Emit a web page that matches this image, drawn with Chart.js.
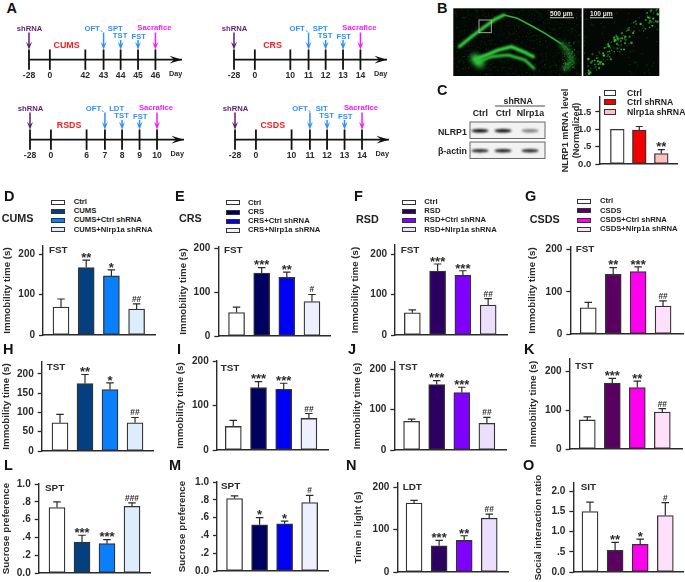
<!DOCTYPE html>
<html><head><meta charset="utf-8">
<script src="https://cdn.jsdelivr.net/npm/chart.js@4/dist/chart.umd.js"></script>
<style>
html,body{margin:0;padding:0;background:#fff;width:685px;height:582px;overflow:hidden}
#root{position:relative;width:685px;height:582px;overflow:hidden;font-family:"Liberation Sans",Arial,sans-serif;color:#222}
canvas{position:absolute}
.t{position:absolute;white-space:nowrap;line-height:1;transform:translateY(-50%);font-weight:700}
.sw{position:absolute;box-sizing:border-box;border:1.2px solid #333}
</style></head><body><div id="root"></div>
<script>
// ---------- data ----------
const cumsLegend=['Ctrl','CUMS','CUMS+Ctrl shRNA','CUMS+Nlrp1a shRNA'];
const crsLegend=['Ctrl','CRS','CRS+Ctrl shRNA','CRS+Nlrp1a shRNA'];
const rsdLegend=['Ctrl','RSD','RSD+Ctrl shRNA','RSD+Nlrp1a shRNA'];
const csdsLegend=['Ctrl','CSDS','CSDS+Ctrl shRNA','CSDS+Nlrp1a shRNA'];
const knockdownLegend=['Ctrl','Ctrl shRNA','Nlrp1a shRNA'];

const dFst=[69,166.7,146,64],      dFstTop=[89,185,161,77],      dMarks=['','**','*','##'];
const eFst=[53.5,144,134,79],      eFstTop=[66,156.5,146,95],    eMarks=['','***','**','#'];
const fFst=[55,158.4,147.7,74],    fFstTop=[62,175.7,159,90],    fMarks=['','***','***','##'];
const gFst=[62,141.5,148,66],      gFstTop=[75,157,159,78.5],    gMarks=['','**','***','##'];
const hTst=[73,175,159.5,73],      hTstTop=[95,198.5,176.7,87],  hMarks=['','**','*','##'];
const iTst=[53,140,136.4,71],      iTstTop=[66.7,153.5,150,82],  iMarks=['','***','***','##'];
const jTst=[71,162,142.5,66],      jTstTop=[76.5,172,155.5,81],  jMarks=['','***','***','##'];
const kTst=[75,170,158.5,95],      kTstTop=[82.7,182,175,104],   kMarks=['','***','**','##'];
const lSpt=[.735,.348,.33,.75],    lSptTop=[.80,.424,.375,.787], lMarks=['','***','***','###'];
const mSpt=[.815,.52,.53,.77],     mSptTop=[.843,.60,.56,.85],   mMarks=['','*','*','#'];
const nLdt=[162.5,62,74.5,127],    nLdtTop=[169,74.5,85.5,136.5],nMarks=['','***','**','##'];
const oSit=[1.5,.535,.684,1.40],   oSitTop=[1.73,.733,.815,1.72],oMarks=['','**','*','#'];
const cMrna=[1,.98,.30],           cMrnaTop=[1,1.08,.415],       cMarks=['','','**'];

const ticks0to200=[0,100,200],              labels0to200=['0','100','200'];
const ticks0to200by50=[0,50,100,150,200],   labels0to200by50=['0','50','100','150','200'];
const ticksFraction=[0,.2,.4,.6,.8,1],      labelsFraction=['0.0','.2','.4','.6','.8','1.0'];
const ticksRatio=[0,.5,1,1.5,2],            labelsRatio=['0.0','.5','1.0','1.5','2.0'];
const ticksMrna=[0,.5,1,1.5],               labelsMrna=['0.0','.5','1.0','1.5'];

const cumsDays=['-28','0','42','43','44','45','46'];
const crsDays=['-28','0','10','11','12','13','14'];
const rsdsDays=['-28','0','6','7','8','9','10'];
const csdsDays=['-28','0','10','11','12','13','14'];

// ---------- colours and layout ----------
const cumsColors=['#ffffff','#04407f','#0a7ffc','#deedfb'];
const crsColors=['#ffffff','#000060','#0000f4','#eff0ff'];
const rsdColors=['#ffffff','#2b0060','#7f00ff','#ecdffb'];
const csdsColors=['#ffffff','#5a0060','#ff00ee','#ffe0fa'];
const mrnaColors=['#ffffff','#f00000','#ffc0c0'];
const FONT='"Liberation Sans",Arial,sans-serif', INK='#2a2a2a';
const root=document.getElementById('root');

function text(x,y,s,size,color,opts){
  const d=document.createElement('div');d.className='t';d.textContent=s;
  d.style.left=x+'px';d.style.top=y+'px';d.style.fontSize=size+'px';
  if(color)d.style.color=color;
  if(opts&&opts.weight)d.style.fontWeight=opts.weight;
  root.appendChild(d);
}
function newCanvas(x,y,w,h){
  const c=document.createElement('canvas');c.width=w;c.height=h;
  c.style.left=x+'px';c.style.top=y+'px';c.style.width=w+'px';c.style.height=h+'px';
  root.appendChild(c);return c;
}

// ---------- error bars, significance marks and panel tag, placed through the scales ----------
const annotPlugin={id:'annot',afterDatasetsDraw(ch,_a,o){
  const c=ch.ctx,sx=ch.scales.x,sy=ch.scales.y;
  c.save();c.strokeStyle=INK;c.lineWidth=1.2;c.fillStyle=INK;c.textAlign='center';c.textBaseline='alphabetic';
  o.upper.forEach((u,i)=>{
    const x=sx.getPixelForValue(i+1),y0=sy.getPixelForValue(o.values[i]),y1=sy.getPixelForValue(u);
    if(u>o.values[i]){
      c.beginPath();c.moveTo(x,y0);c.lineTo(x,y1);c.moveTo(x-o.cap/2,y1);c.lineTo(x+o.cap/2,y1);c.stroke();
    }
    const m=o.marks[i];
    if(m&&m[0]==='*'){c.font='700 13px '+FONT;c.fillText(m,x,y1+1.8);}
    else if(m){c.font='700 8.4px '+FONT;c.fillText(m,x,y1-2);}
  });
  if(o.tag){
    c.textAlign='left';c.textBaseline='middle';c.font='700 9.9px '+FONT;
    c.fillText(o.tag,o.tagX-ch.canvas.offsetLeft,o.tagY-ch.canvas.offsetTop);
  }
  c.restore();
}};

function barPanel(p){
  const pad=12, W=p.ax-(p.titleX-6), cLeft=p.titleX-6;
  const cw=Math.round(p.right-cLeft+1), ch=Math.round(p.y0-p.ytop+pad*2);
  const cTop=p.ytop-pad;
  const c=newCanvas(cLeft,cTop,cw,ch);
  const labels=p.legend;
  new Chart(c,{
    type:'bar',
    data:{labels,datasets:[{
      data:p.values.map((v,i)=>({x:i+1,y:v})),
      backgroundColor:p.colors,borderColor:'#333',borderWidth:1.3,borderSkipped:false,
      barThickness:p.barW||16
    }]},
    plugins:[annotPlugin],
    options:{
      responsive:false,animation:false,
      layout:{padding:{top:pad,bottom:pad,left:0,right:1}},
      plugins:{legend:{display:false},tooltip:{enabled:false},
        annot:{values:p.values,upper:p.upper,marks:p.marks,cap:p.cap||7.5,tag:p.tag,tagX:p.tagX,tagY:p.tagY}},
      scales:{
        x:{type:'linear',offset:false,min:1-(p.x1-p.ax)/p.step,max:1+(p.right-p.x1)/p.step,
          ticks:{display:false},grid:{display:false,drawTicks:false},
          border:{display:true,color:INK,width:1.4},
          afterFit:s=>{s.height=0}},
        y:{type:'linear',min:0,max:p.ymax,position:'left',
          grid:{drawOnChartArea:false,drawTicks:true,tickLength:4,tickColor:INK,tickWidth:1.3},
          border:{display:true,color:INK,width:1.4},
          ticks:{autoSkip:false,includeBounds:false,padding:4,color:INK,
            font:{family:FONT,size:p.tickSize||10,weight:'700'},
            callback:(v)=>{const i=p.ticks.indexOf(v);return i<0?'':p.tickText[i];}},
          afterBuildTicks:s=>{s.ticks=p.ticks.map(v=>({value:v}));},
          title:{display:true,text:p.title,color:INK,padding:0,
            font:{family:FONT,size:p.titleSize||9.8,weight:'700',lineHeight:p.titleLH||1.2}},
          afterFit:s=>{s.width=W}}
      }
    }
  });
}

const immob='Immobility time (s)', sucrose='Sucrose preference';
const geom=[
 {values:dFst,upper:dFstTop,marks:dMarks,colors:cumsColors,legend:cumsLegend,ticks:ticks0to200,tickText:labels0to200,tag:'FST',title:immob,ax:43,y0:335,ytop:246,ymax:220,right:155,x1:61,step:25.2,titleX:7,tagX:49,tagY:250},
 {values:eFst,upper:eFstTop,marks:eMarks,colors:crsColors,legend:crsLegend,ticks:ticks0to200,tickText:labels0to200,tag:'FST',title:immob,ax:218,y0:335.7,ytop:246.7,ymax:203.7,right:330,x1:236.3,step:25.2,titleX:182.7,tagX:224,tagY:250.3},
 {values:fFst,upper:fFstTop,marks:fMarks,colors:rsdColors,legend:rsdLegend,ticks:ticks0to200,tickText:labels0to200,tag:'FST',title:immob,ax:395,y0:335,ytop:245,ymax:222.7,right:506.7,x1:412.3,step:25.2,titleX:355,tagX:400.7,tagY:250},
 {values:gFst,upper:gFstTop,marks:gMarks,colors:csdsColors,legend:csdsLegend,ticks:ticks0to200,tickText:labels0to200,tag:'FST',title:immob,ax:570,y0:334,ytop:246.7,ymax:206,right:683,x1:588,step:25,titleX:531.7,tagX:575.7,tagY:249},
 {values:hTst,upper:hTstTop,marks:hMarks,colors:cumsColors,legend:cumsLegend,ticks:ticks0to200by50,tickText:labels0to200by50,tag:'TST',title:immob,ax:41.7,y0:450.7,ytop:361.7,ymax:231,right:153,x1:60,step:25,titleX:6,tagX:46.7,tagY:367.3},
 {values:iTst,upper:iTstTop,marks:iMarks,colors:crsColors,legend:crsLegend,ticks:ticks0to200,tickText:labels0to200,tag:'TST',title:immob,ax:216.7,y0:450,ytop:361,ymax:200,right:328,x1:233.3,step:25.2,titleX:180,tagX:220.7,tagY:368},
 {values:jTst,upper:jTstTop,marks:jMarks,colors:rsdColors,legend:rsdLegend,ticks:ticks0to200,tickText:labels0to200,tag:'TST',title:immob,ax:394,y0:450,ytop:361.7,ymax:218,right:505.7,x1:411.3,step:25.1,titleX:356.7,tagX:399,tagY:367},
 {values:kTst,upper:kTstTop,marks:kMarks,colors:csdsColors,legend:csdsLegend,ticks:ticks0to200,tickText:labels0to200,tag:'TST',title:immob,ax:569.3,y0:449,ytop:359.3,ymax:232,right:681.7,x1:587,step:25,titleX:532.7,tagX:575,tagY:366},
 {values:lSpt,upper:lSptTop,marks:lMarks,colors:cumsColors,legend:cumsLegend,ticks:ticksFraction,tickText:labelsFraction,tag:'SPT',title:sucrose,ax:38.7,y0:572.7,ytop:483.7,ymax:1,right:150,x1:57,step:25,titleX:6,tagX:45,tagY:488},
 {values:mSpt,upper:mSptTop,marks:mMarks,colors:crsColors,legend:crsLegend,ticks:ticksFraction,tickText:labelsFraction,tag:'SPT',title:sucrose,ax:216.7,y0:571.3,ytop:482.3,ymax:1,right:328,x1:234.3,step:25.1,titleX:181.7,tagX:221,tagY:486.7},
 {values:nLdt,upper:nLdtTop,marks:nMarks,colors:rsdColors,legend:rsdLegend,ticks:ticks0to200,tickText:labels0to200,tag:'LDT',title:'Time in light (s)',ax:397.3,y0:572,ytop:482.7,ymax:210,right:507.7,x1:414,step:25,titleX:358,tagX:402.7,tagY:487.7},
 {values:oSit,upper:oSitTop,marks:oMarks,colors:csdsColors,legend:csdsLegend,ticks:ticksRatio,tickText:labelsRatio,tag:'SIT',title:'Social interaction ratio',ax:573.3,y0:572,ytop:482.7,ymax:2.205,right:683,x1:590,step:25.1,titleX:538,tagX:580.7,tagY:487.7},
 {values:cMrna,upper:cMrnaTop,marks:cMarks,colors:mrnaColors,legend:knockdownLegend,ticks:ticksMrna,tickText:labelsMrna,tag:null,title:['NLRP1 mRNA level','(Normalized)'],ax:599,y0:163.7,ytop:96.7,ymax:1.93,right:676.7,x1:617,step:22,titleX:565.7,barW:13.7,cap:7,titleSize:9.2,tickSize:9.5,titleLH:1.2}
];
geom.forEach(barPanel);

// ---------- HTML legends ----------
function legend(names,colors,swX,textX,rows,size,swW,swH){
  names.forEach((n,i)=>{
    const s=document.createElement('div');s.className='sw';
    s.style.cssText+=`left:${swX}px;top:${rows[i]-swH/2}px;width:${swW}px;height:${swH}px;background:${colors[i]}`;
    root.appendChild(s);
    text(textX,rows[i],n,size);
  });
}
legend(cumsLegend,cumsColors,51,73.7,[202,211,220.3,229.7],7.7,13.5,5);
legend(crsLegend,crsColors,226,248,[202.7,212,221,230.3],7.7,13.5,5);
legend(rsdLegend,rsdColors,402,424.3,[202,211,220.3,229.7],7.7,13.5,5);
legend(csdsLegend,csdsColors,577,600,[201.3,210.7,220,229.3],7.7,13.5,5);
legend(knockdownLegend,mrnaColors,604,627,[92.7,102,112],8.7,11.5,6);

[['A',6.5,7.5],['B',437,7.5],['C',437,90],['D',4,196],['E',175,195.5],['F',354,195.5],['G',525,195.5],
 ['H',3,348.5],['I',177,348.5],['J',348,348.5],['K',524,348.5],['L',4,465],['M',169,465],['N',346,465],['O',523,465]]
 .forEach(a=>text(a[1],a[2],a[0],14.5,'#111'));
[['CUMS',1.7,218],['CRS',179,218],['RSD',356,219],['CSDS',529.7,218.7]].forEach(a=>text(a[1],a[2],a[0],10.8));

// ---------- panel A: schedules, drawn on Chart.js scales ----------
const UNITX=18.17, UNITY=10.17;
const schedulePlugin={id:'schedule',afterDatasetsDraw(ch,_a,o){
  const c=ch.ctx,sx=ch.scales.x,sy=ch.scales.y;
  const arrow=(x,y1,y2,col,hw,hl,horizontal)=>{
    c.strokeStyle=col;c.fillStyle=col;c.lineWidth=1.5;
    c.beginPath();
    if(horizontal){
      c.moveTo(x,y1);c.lineTo(x-hl,y1-hw);c.lineTo(x-hl*0.62,y1);c.lineTo(x-hl,y1+hw);c.closePath();c.fill();
    }else{
      c.moveTo(x,y1);c.lineTo(x,y2-hl*0.5);c.stroke();
      c.beginPath();c.moveTo(x,y2);c.lineTo(x-hw,y2-hl);c.lineTo(x,y2-hl*0.62);c.lineTo(x+hw,y2-hl);c.closePath();c.fill();
    }
  };
  c.save();c.textAlign='center';c.textBaseline='middle';
  arrow(sx.getPixelForValue(sx.max),sy.getPixelForValue(0),0,'#111',3.8,12.5,true);
  o.events.forEach(e=>{
    const x=sx.getPixelForValue(o.slots[e.slot]);
    arrow(x,sy.getPixelForValue(e.from),sy.getPixelForValue(1.05),e.color,3,8,false);
    c.fillStyle=e.color;c.font='700 7.7px '+FONT;
    c.fillText(e.text,x+(e.dx||0),sy.getPixelForValue(e.y));
  });
  c.fillStyle='#ee2222';c.font='700 8.9px '+FONT;
  c.fillText(o.name,sx.getPixelForValue(o.nameX),sy.getPixelForValue(1.54));
  c.fillStyle=INK;c.font='700 7.3px '+FONT;
  c.fillText('Day',sx.getPixelForValue(8.51),sy.getPixelForValue(-1.5));
  c.restore();
}};
const scheduleSlots=[0,1.21,3.27,4.33,5.32,6.33,7.34];
function schedule(axisLeft,axisEnd,axisY,days,name,nameX,openTest){
  const left=16,right=4,top=8,bottom=13,yMax=3.6,yMin=-1;
  const w=axisEnd-axisLeft, xMax=w/UNITX;
  const cx=axisLeft-left, cy=axisY-yMax*UNITY-top;
  const c=newCanvas(cx,cy,Math.round(w+left+right),Math.round((yMax-yMin)*UNITY+top+bottom));
  const purple='#5f1f6f',blue='#2f8fff',pink='#f020f0';
  new Chart(c,{
    type:'scatter',
    data:{datasets:[
      {data:[{x:0,y:0},{x:xMax,y:0}],showLine:true,pointRadius:0,borderColor:'#111',borderWidth:1.6,clip:false},
      {data:scheduleSlots.map(x=>({x,y:0})),pointStyle:'line',rotation:90,pointRadius:10.2,borderColor:'#111',backgroundColor:'#111',pointBorderWidth:1.8,clip:false}
    ]},
    plugins:[schedulePlugin],
    options:{responsive:false,animation:false,
      layout:{padding:{left,right,top,bottom:0}},
      plugins:{legend:{display:false},tooltip:{enabled:false},
        schedule:{slots:scheduleSlots,name,nameX,events:[
          {slot:0,from:2.9,y:3.28,color:purple,text:'shRNA',dx:.5},
          {slot:3,from:2.9,y:3.28,color:blue,text:openTest},
          {slot:4,from:2.1,y:2.5,color:blue,text:'TST',dx:-.5},
          {slot:5,from:2.1,y:2.45,color:blue,text:'FST',dx:.7},
          {slot:6,from:2.9,y:3.42,color:pink,text:'Sacrafice',dx:-1}
        ]}},
      scales:{
        x:{type:'linear',min:0,max:xMax,offset:false,
          grid:{display:false,drawTicks:false},border:{display:false},
          ticks:{autoSkip:false,includeBounds:false,maxRotation:0,padding:1,color:INK,
            font:{family:FONT,size:8.6,weight:'700'},
            callback:(v)=>{const i=scheduleSlots.indexOf(v);return i<0?'':days[i];}},
          afterBuildTicks:s=>{s.ticks=scheduleSlots.map(v=>({value:v}));},
          afterFit:s=>{s.height=bottom}},
        y:{type:'linear',min:yMin,max:yMax,display:false}
      }
    }
  });
}
schedule(29.3,190.7,58.7,cumsDays,'CUMS',2.18,'OFT、SPT');
schedule(234.3,395.7,58.7,crsDays,'CRS',2.24,'OFT、SPT');
schedule(30,191.7,138.3,rsdsDays,'RSDS',2.26,'OFT、LDT');
schedule(235,396.7,138.3,csdsDays,'CSDS',2.18,'OFT、SIT');

// ---------- panels B and C: stand-ins for the micrographs and the blot ----------
(function(){
  const c=newCanvas(430,0,240,170).getContext('2d');
  const ox=430;
  let seed=12345;const rnd=()=>{seed=(seed*1103515245+12345)&0x7fffffff;return seed/0x7fffffff;};
  c.fillStyle='#040804';c.fillRect(453.3-ox,8.3,128.4,67.7);c.fillRect(583.3-ox,8.3,76,67.7);
  const P=(zx,zy)=>[zx/3,zy/3];
  function curve(pts,col,w,blur){
    c.save();c.filter=`blur(${blur}px)`;c.strokeStyle=col;c.lineWidth=w;c.lineCap='round';c.lineJoin='round';
    c.beginPath();pts.forEach((p,i)=>{const q=P(p[0],p[1]);i?c.lineTo(q[0],q[1]):c.moveTo(q[0],q[1]);});c.stroke();c.restore();
  }
  c.save();c.beginPath();c.rect(453.3-ox,8.3,128.4,67.7);c.clip();
  for(let i=0;i<700;i++){
    const x=23.3+rnd()*128,y=8.3+rnd()*68;
    c.fillStyle=`rgba(30,${90+rnd()*60|0},30,${0.15+rnd()*.3})`;c.fillRect(x,y,1,1);
  }
  curve([[88,140],[125,110],[165,80],[195,58],[222,45]],'#3de84a',3,.9);
  curve([[222,45],[262,55],[300,75],[345,100],[395,132]],'#2fb63a',1.6,.7);
  curve([[395,132],[420,160],[425,185],[405,205]],'#1a6f25',5,2.2);
  curve([[135,178],[170,165],[205,150],[245,140],[280,155],[310,170]],'#39e846',3.2,.9);
  curve([[140,188],[185,170],[235,165],[285,180],[312,205]],'#35dc42',2.6,.8);
  curve([[135,175],[150,190]],'#2fc23c',9,2.4);
  for(let i=0;i<90;i++){
    const a=rnd(),x=(395+a*38)/3,y=(125+rnd()*85)/3;
    c.fillStyle=`rgba(50,${130+rnd()*60|0},50,${.35+rnd()*.35})`;c.fillRect(x,y,1.1,1.1);
  }
  c.restore();
  c.strokeStyle='#b5b5b5';c.lineWidth=.9;c.strokeRect(479-ox,20,12.3,12.7);
  c.save();c.beginPath();c.rect(583.3-ox,8.3,76,67.7);c.clip();
  for(let i=0;i<150;i++){
    const a=rnd(),x=585+a*74,y=70-a*58+(rnd()-.5)*20;
    c.fillStyle=`rgba(50,${150+rnd()*90|0},50,${.45+rnd()*.5})`;
    c.beginPath();c.arc(x-ox,y,.4+rnd()*.9,0,7);c.fill();
  }
  for(let i=0;i<70;i++){
    c.fillStyle='rgba(30,110,40,.55)';c.fillRect(583.3-ox+rnd()*76,8.3+rnd()*68,1,1);
  }
  c.restore();
  c.fillStyle='#d8d8d8';c.fillRect(550-ox,17.3,24,.9);c.fillRect(590-ox,17.3,23,.9);
  [[122,130.8,[[15,1],[15,1],[15,.5]]],[142,150.8,[[15,.9],[15,.95],[15,.9]]]].forEach(r=>{
    c.fillStyle='#f2f2f2';c.strokeStyle='#666';c.lineWidth=1;
    c.fillRect(470-ox,r[0],75,16.5);c.strokeRect(470-ox,r[0],75,16.5);
    [480,503,530].forEach((x,i)=>{
      c.save();c.filter='blur(.8px)';c.fillStyle=`rgba(15,15,15,${r[2][i][1]})`;
      c.beginPath();c.ellipse(x-ox,r[1],8.5,1.7,0,0,7);c.fill();c.restore();
    });
  });
  c.strokeStyle='#333';c.lineWidth=.9;c.beginPath();c.moveTo(495-ox,106);c.lineTo(545-ox,106);c.stroke();
})();
text(550,14,'500 μm',6.6,'#e8e8e8');
text(590,14,'100 μm',6.6,'#e8e8e8');
text(438,131.5,'NLRP1',8.8);
text(438,151,'β-actin',8.8);
text(503.5,101,'shRNA',8.8);
text(472.7,112.7,'Ctrl',8.8);
text(495.7,112.7,'Ctrl',8.8);
text(516.7,112.7,'Nlrp1a',8.8);
</script></body></html>
